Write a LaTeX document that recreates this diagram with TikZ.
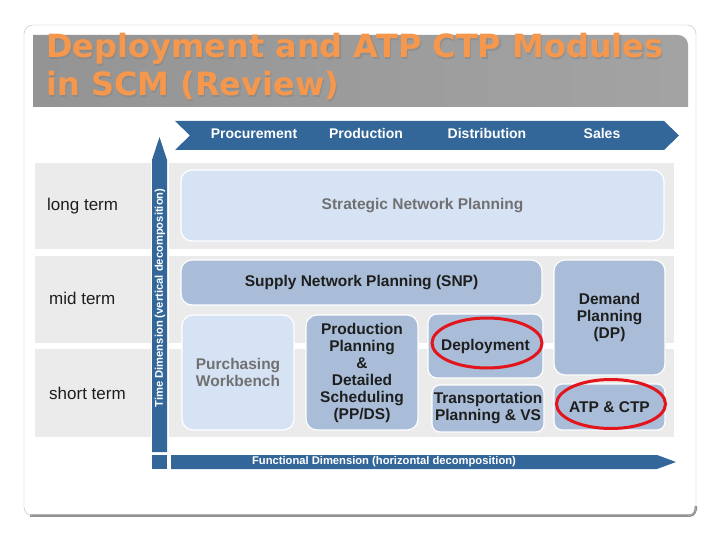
\documentclass[tikz,border=0pt]{standalone}
\usepackage{fontspec}
\setmainfont{Liberation Sans}
\newfontfamily\titlefont{DejaVu Sans}
\usetikzlibrary{calc}
\usetikzlibrary{shapes}
\definecolor{sapblue}{HTML}{336699}
\definecolor{bandgray}{HTML}{EBEBEB}
\definecolor{boxlight}{HTML}{D6E3F5}
\definecolor{boxmid}{HTML}{A9BDD8}
\definecolor{txtdark}{HTML}{1E1E1E}
\definecolor{txtgray}{HTML}{707070}
\definecolor{ringred}{HTML}{E3141B}
\definecolor{titleorange}{HTML}{F5974C}
\newcommand{\band}[4]{ \fill[bandgray] ( #1 , #2 ) rectangle ( #3 , #4 );}
\newcommand{\titleline}[4]{\node[titletxt, text=black!50, opacity=0.45] (#1s) at ( #2+1.2 , #3+1.2 ) {#4};
  \node[titletxt] (#1) at ( #2 , #3 ) {#4};}
\tikzset{
  titletxt/.style={anchor=base west, inner sep=0pt, text=titleorange, font=\titlefont\bfseries\fontsize{32}{38}\selectfont},
  lblk/.style={draw=white, line width=1.2, fill=boxlight, rounded corners=11, align=center, inner sep=0pt, text=txtgray, font=\bfseries\fontsize{15.5}{17}\selectfont},
  mblk/.style={lblk, fill=boxmid, text=txtdark},
  ring/.style={ellipse, draw=ringred, line width=3, inner sep=0pt},
  hdr/.style={text=white, text height=10pt, text depth=3pt, font=\bfseries\fontsize{14}{17}\selectfont},
  term/.style={anchor=west, inner sep=0pt, text=txtdark, font=\fontsize{17}{20}\selectfont},
  axislbl/.style={text=white, inner sep=0pt, font=\bfseries\fontsize{11.2}{12}\selectfont}
}
\begin{document}
\begin{tikzpicture}[x=1pt,y=-1pt]
        \useasboundingbox (0,0) rectangle (720,540);
        % slide frame
        \fill[white] (0,0) rectangle (720,540);
        \draw[black!45, line width=2.5] (30,515.5) -- (690,515.5) to[out=0,in=-90] (696,506);
        \draw[black!25, rounded corners=9] (24,25) rectangle (696,516);
        % title band
        \shade[left color=black!42, middle color=black!18, right color=black!36]
          (33,107) -- (33,35) -- (678,35) to[out=0,in=90] (688,45) -- (688,107) -- cycle;
        \titleline{title1}{46}{58}{Deployment and ATP CTP Modules}
        \titleline{title2}{46}{96}{in SCM (Review)}
        % rows left
        \band{35}{163}{151}{249}
        \band{35}{256}{151}{343}
        \band{35}{349}{151}{437}
        % rows right
        \band{169}{163}{674}{249}
        \band{169}{256}{674}{343}
        \band{169}{349}{674}{437}
        % functional arrow
        \fill[sapblue] (175,121) -- (664,121) -- (679,135.5) -- (664,150) -- (175,150) -- (190,135.5) -- cycle;
        \node[hdr] (proc) at (254,135) {Procurement};
        \node[hdr] (prod) at (366,135) {Production};
        \node[hdr] (dist) at (487,135) {Distribution};
        \node[hdr] (sales) at (602,135) {Sales};
        % time arrow
        \fill[sapblue] (152,452) -- (152,160) -- (159.5,137) -- (167,160) -- (167,452) -- cycle;
        \node[axislbl, rotate=90] (timeax) at (160,298) {Time Dimension (vertical decomposition)};
        \fill[sapblue] (152,455) rectangle (167,469);
        \fill[sapblue] (171,455) -- (657,455) -- (676,462) -- (657,469) -- (171,469) -- cycle;
        \node[axislbl] (funcax) at (384,462) {Functional Dimension (horizontal decomposition)};
        % terms
        \node[term] (long) at (47,206) {long term};
        \node[term] (mid) at (49,298) {mid term};
        \node[term] (short) at (49,393) {short term};
        % modules
        \node[lblk, minimum width=483, minimum height=71] (snet) at (422.5,205.5) {Strategic Network Planning};
        \node[mblk, minimum width=361, minimum height=45] (snp) at (361.5,282.5) {Supply Network Planning (SNP)};
        \node[mblk, minimum width=111, minimum height=115] (dp) at (609.5,317.5) {Demand\\Planning\\(DP)};
        \node[lblk, minimum width=112, minimum height=115] (pwb) at (238,372.5) {Purchasing\\Workbench};
        \node[mblk, minimum width=112, minimum height=115] (ppds) at (362,372.5) {Production\\Planning\\\&\\Detailed\\Scheduling\\(PP/DS)};
        \node[mblk, minimum width=115, minimum height=64, rounded corners=9] (depl) at (485.5,346) {Deployment};
        \node[mblk, minimum width=112, minimum height=47, rounded corners=8] (tpvs) at (488,408.5) {Transportation\\Planning \& VS};
        \node[mblk, minimum width=111, minimum height=46, rounded corners=8] (atp) at (609.5,407) {ATP \& CTP};
        % red marks
        \node[ring, minimum width=110, minimum height=50] (ring1) at (487,343) {};
        \node[ring, minimum width=109, minimum height=49] (ring2) at (611,404) {};
    \end{tikzpicture}
\end{document}
